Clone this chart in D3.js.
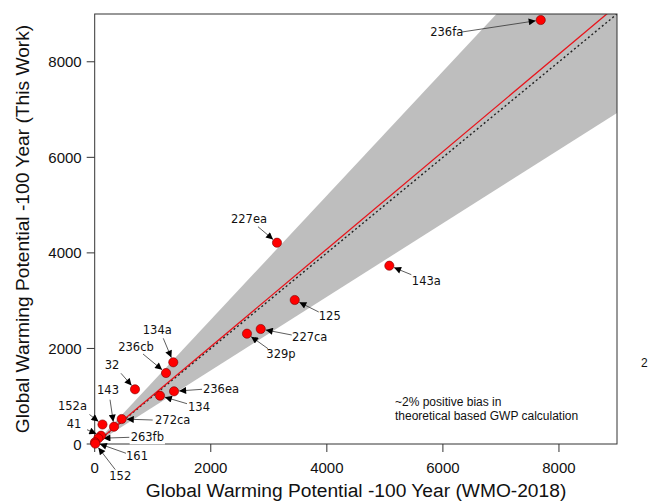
<!doctype html>
<html lang="en">
<head>
  <meta charset="utf-8">
  <title>GWP comparison</title>
  <script src="https://cdnjs.cloudflare.com/ajax/libs/d3/7.8.5/d3.min.js"></script>
  <style>
    body { margin: 0; background: #fff; }
    svg { display: block; }
  </style>
</head>
<body>
<div id="chart"></div>

<script>
// compounds and their 100-yr GWP values
const compounds = ["236fa", "227ea", "143a", "125", "227ca", "329p", "134a", "236cb", "32",
  "236ea", "134", "272ca", "143", "152a", "41", "263fb", "161", "152"]
const gwpWmo = [7686, 3141, 5077, 3447, 2861, 2624, 1354, 1229, 694,
  1367, 1125, 465, 333, 134, 109, 62, 5, 10]
const gwpThisWork = [8874, 4213, 3732, 3014, 2407, 2309, 1710, 1486, 1145,
  1103, 1011, 523, 362, 408, 174, 119, 36, 8]

const xTicks = [0, 2000, 4000, 6000, 8000]
const yTicks = [0, 2000, 4000, 6000, 8000]

// fit / band slopes
const fitSlope = 1.02
const bandLow = 0.77
const bandHigh = 1.30

// label placement (pixel offsets from the point): text centre, arrow tail
const labelOffsets = [
  [-94, 12, -79, 12], [-28, -24, -19, -16], [37, 15, 22, 9], [35, 16, 24, 12],
  [49, 8, 31, 6], [34, 20, 21, 15], [-16, -32, -10, -24], [-30, -26, -23, -19],
  [-23, -24, -14, -16], [47, -2, 28, -2], [39, 11, 27, 8], [51, 1, 31, 1],
  [-6, -37, -4, -27], [-30, -19, -13, -10], [-27, -12, -14, -6], [49, -1, 31, -1],
  [42, 14, 31, 11], [25, 32, 20, 26]
]

const W = 654, H = 501
const mLeft = 94.7, mRight = 617, mTop = 14, mBottom = 444

const svg = d3.select("#chart").append("svg")
  .attr("width", W)
  .attr("height", H)

const x = d3.scaleLinear().domain([0, 9000]).range([mLeft, mRight])
const y = d3.scaleLinear().domain([0, 9000]).range([mBottom, mTop])

const defs = svg.append("defs")
defs.append("clipPath").attr("id", "plotclip")
  .append("rect")
  .attr("x", mLeft).attr("y", mTop)
  .attr("width", mRight - mLeft).attr("height", mBottom - mTop)

defs.append("marker")
  .attr("id", "arrow")
  .attr("markerUnits", "userSpaceOnUse")
  .attr("viewBox", "0 0 10 10")
  .attr("refX", 10).attr("refY", 5)
  .attr("markerWidth", 9).attr("markerHeight", 7)
  .attr("orient", "auto")
  .append("path")
  .attr("d", "M0,0 L10,5 L0,10 Z")
  .attr("fill", "#000")

const plot = svg.append("g").attr("clip-path", "url(#plotclip)")

// grey band
const xs = [0, 9000]
const band = d3.area()
  .x(d => x(d))
  .y0(d => y(d * bandLow))
  .y1(d => y(d * bandHigh))
plot.append("path")
  .datum(xs)
  .attr("d", band)
  .attr("fill", "#bebebe")

// 1:1 line
plot.append("path")
  .datum(xs)
  .attr("d", d3.line().x(d => x(d)).y(d => y(d)))
  .attr("stroke", "#222")
  .attr("stroke-width", 1.4)
  .attr("stroke-dasharray", "2,2.5")
  .attr("fill", "none")

// fit line
plot.append("path")
  .datum(xs)
  .attr("d", d3.line().x(d => x(d)).y(d => y(d * fitSlope)))
  .attr("stroke", "#e8141b")
  .attr("stroke-width", 1.3)
  .attr("fill", "none")

// axes ticks
const ax = svg.append("g").attr("font-family", "'Liberation Sans', Arial, sans-serif")

ax.selectAll(".yt").data(yTicks).enter().append("line")
  .attr("x1", mLeft - 8).attr("x2", mLeft)
  .attr("y1", d => y(d)).attr("y2", d => y(d))
  .attr("stroke", "#333")
ax.selectAll(".yl").data(yTicks).enter().append("text")
  .attr("x", mLeft - 13)
  .attr("y", d => y(d) + 5.5)
  .attr("text-anchor", "end")
  .attr("font-size", 15)
  .attr("fill", "#111")
  .text(d => d)

ax.selectAll(".xt").data(xTicks).enter().append("line")
  .attr("x1", d => x(d)).attr("x2", d => x(d))
  .attr("y1", mBottom).attr("y2", mBottom + 8)
  .attr("stroke", "#333")
ax.selectAll(".xl").data(xTicks).enter().append("text")
  .attr("x", d => x(d))
  .attr("y", 473)
  .attr("text-anchor", "middle")
  .attr("font-size", 15)
  .attr("fill", "#111")
  .text(d => d)

ax.append("text")
  .attr("x", 356)
  .attr("y", 497)
  .attr("text-anchor", "middle")
  .attr("font-size", 19.2)
  .attr("fill", "#111")
  .text("Global Warming Potential -100 Year (WMO-2018)")

ax.append("text")
  .attr("transform", "translate(29," + ((mTop + mBottom) / 2) + ") rotate(-90)")
  .attr("text-anchor", "middle")
  .attr("font-size", 19.2)
  .attr("fill", "#111")
  .text("Global Warming Potential -100 Year (This Work)")

// annotation
const note = ax.append("text")
  .attr("font-size", 12)
  .attr("fill", "#111")
note.append("tspan").attr("x", 395).attr("y", 406).text("~2% positive bias in")
note.append("tspan").attr("x", 395).attr("y", 419.5).text("theoretical based GWP calculation")

// cut-off text from neighbouring panel
ax.append("text").attr("x", 641).attr("y", 367).attr("font-size", 12).attr("fill", "#111").text("2")

// box
svg.append("rect")
  .attr("x", mLeft).attr("y", mTop)
  .attr("width", mRight - mLeft).attr("height", mBottom - mTop)
  .attr("fill", "none")
  .attr("stroke", "#333")
  .attr("stroke-width", 1)

// labels with arrows
const pts = compounds.map((c, i) => ({
  name: c, px: x(gwpWmo[i]), py: y(gwpThisWork[i]), off: labelOffsets[i]
}))
const r = 4.6

const lab = svg.append("g")
  .attr("font-family", "'DejaVu Sans', Verdana, sans-serif")
  .attr("font-size", 11.5)

pts.forEach(p => {
  const tx = p.px + p.off[0], ty = p.py + p.off[1]
  const t = lab.append("text")
    .attr("x", tx).attr("y", ty + 4)
    .attr("text-anchor", "middle")
    .attr("fill", "#111")
    .text(p.name)
  const bb = t.node().getBBox()
  lab.insert("rect", "text")
    .attr("x", bb.x - 1).attr("y", bb.y)
    .attr("width", bb.width + 2).attr("height", bb.height)
    .attr("fill", "#fff")

  const ax0 = p.px + p.off[2], ay0 = p.py + p.off[3]
  const dx = p.px - ax0, dy = p.py - ay0
  const len = Math.sqrt(dx * dx + dy * dy)
  const ex = p.px - dx / len * (r + 0.5), ey = p.py - dy / len * (r + 0.5)
  lab.append("line")
    .attr("x1", ax0).attr("y1", ay0)
    .attr("x2", ex).attr("y2", ey)
    .attr("stroke", "#333")
    .attr("stroke-width", 0.8)
    .attr("marker-end", "url(#arrow)")
})

// points
svg.append("g").selectAll("circle")
  .data(pts)
  .enter().append("circle")
  .attr("cx", d => d.px)
  .attr("cy", d => d.py)
  .attr("r", r)
  .attr("fill", "#ff0000")
  .attr("stroke", "#7a0000")
  .attr("stroke-width", 0.6)
</script>
</body>
</html>
